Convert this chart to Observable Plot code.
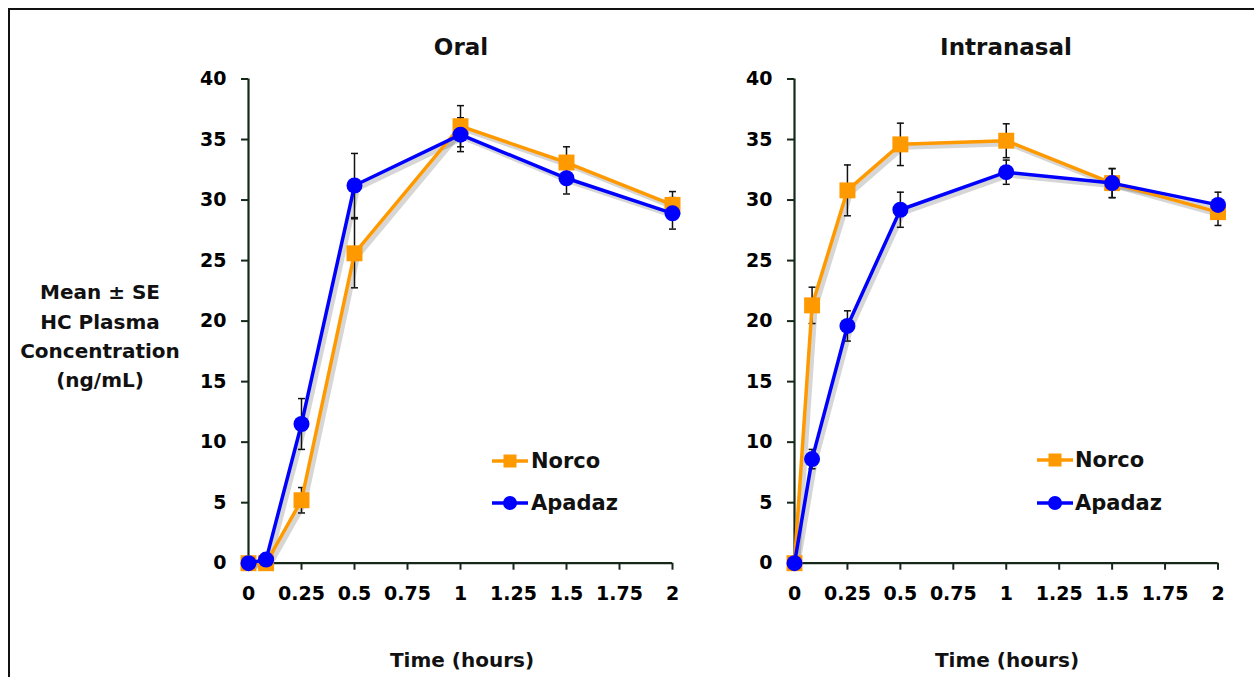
<!DOCTYPE html>
<html><head><meta charset="utf-8">
<script src="https://cdn.jsdelivr.net/npm/d3@7"></script>
<script src="https://cdn.jsdelivr.net/npm/@observablehq/plot@0.6"></script>
<style>
html,body{margin:0;padding:0;background:#fff;overflow:hidden;}
#root{position:relative;width:1254px;height:677px;font-family:"DejaVu Sans",sans-serif;font-weight:bold;color:#111;overflow:hidden;}
.frame{position:absolute;left:8px;top:8px;width:1300px;height:700px;border:2px solid #111;box-sizing:border-box;}
.lbl{position:absolute;transform:translate(-50%,-50%);white-space:nowrap;text-align:center;}
.leg{position:absolute;transform:translateY(-50%);white-space:nowrap;font-size:21px;}
.panel{position:absolute;top:60px;}
</style></head>
<body><div id="root"><div class="frame"></div></div>
<script>
// ---- data ----
const times = [0, 0.083, 0.25, 0.5, 1, 1.5, 2];
const oralNorco     = [0, 0,   5.2, 25.6, 36.1, 33.1, 29.6];
const oralNorcoSE   = [0, 0,   1.05, 2.85, 1.7, 1.3, 1.1];
const oralApadaz    = [0, 0.3, 11.5, 31.2, 35.4, 31.8, 28.9];
const oralApadazSE  = [0, 0,   2.1, 2.65, 1.4, 1.3, 1.3];
const nasalNorco    = [0, 21.3, 30.8, 34.6, 34.9, 31.4, 29.0];
const nasalNorcoSE  = [0, 1.5, 2.1, 1.75, 1.4, 1.2, 1.1];
const nasalApadaz   = [0, 8.6, 19.6, 29.2, 32.3, 31.4, 29.6];
const nasalApadazSE = [0, 0.8, 1.25, 1.45, 1.0, 1.2, 1.05];
const xTicks = [0, 0.25, 0.5, 0.75, 1, 1.25, 1.5, 1.75, 2];
const yTicks = [0, 5, 10, 15, 20, 25, 30, 35, 40];
const seriesNames = ["Norco", "Apadaz"];
const seriesColors = ["#FF9900", "#0000FF"];
const panelTitles = ["Oral", "Intranasal"];
const xLabel = "Time (hours)";
const yLabelLines = ["Mean ± SE", "HC Plasma", "Concentration", "(ng/mL)"];

const axisColor = "#16281a";
const root = document.getElementById("root");

function panel(norco, norcoSE, apadaz, apadazSE, left, width, marginRight) {
  const rows = [];
  times.forEach((t, i) => rows.push({t, v: norco[i], se: norcoSE[i], s: seriesNames[0]}));
  times.forEach((t, i) => rows.push({t, v: apadaz[i], se: apadazSE[i], s: seriesNames[1]}));
  const err = rows.filter(d => d.se > 0);
  const nRows = rows.filter(d => d.s === seriesNames[0]);
  const aRows = rows.filter(d => d.s === seriesNames[1]);
  const cap = {draw(ctx) { ctx.moveTo(-3.5, 0); ctx.lineTo(3.5, 0); }};
  const H = 580;
  const fig = Plot.plot({
    width, height: H,
    marginLeft: 98, marginRight, marginTop: 18.5, marginBottom: H - (562.7 - 60),
    x: {domain: [0, 2]},
    y: {domain: [0, 40]},
    color: {domain: seriesNames, range: seriesColors},
    style: {fontFamily: "DejaVu Sans, sans-serif", fontWeight: "bold", fontSize: "19px", color: "#000", background: "transparent", overflow: "visible"},
    marks: [
      Plot.line(rows, {x: "t", y: "v", z: "s", stroke: "#000", strokeOpacity: 0.16, strokeWidth: 5, dx: 3, dy: 3}),
      Plot.ruleX(err, {x: "t", y1: d => d.v - d.se, y2: d => d.v + d.se, stroke: "#111", strokeWidth: 1.5}),
      Plot.dot(err, {x: "t", y: d => d.v - d.se, symbol: cap, fill: "none", stroke: "#111", strokeWidth: 1.5}),
      Plot.dot(err, {x: "t", y: d => d.v + d.se, symbol: cap, fill: "none", stroke: "#111", strokeWidth: 1.5}),
      Plot.axisX({ticks: xTicks, tickSize: 7, tickPadding: 16, tickFormat: d => String(d), label: null, stroke: axisColor, strokeWidth: 2, fontSize: 19}),
      Plot.axisY({ticks: yTicks, tickSize: 7, tickPadding: 15, label: null, stroke: axisColor, strokeWidth: 2, fontSize: 19}),
      Plot.ruleX([0], {y1: 0, y2: 40, stroke: axisColor, strokeWidth: 2.2}),
      Plot.ruleY([0], {x1: 0, x2: 2, stroke: axisColor, strokeWidth: 2.2}),
      Plot.line(nRows, {x: "t", y: "v", stroke: "s", strokeWidth: 3.5}),
      Plot.dot(nRows, {x: "t", y: "v", symbol: "square", r: 9, fill: "s", stroke: "none"}),
      Plot.line(aRows, {x: "t", y: "v", stroke: "s", strokeWidth: 3.5}),
      Plot.dot(aRows, {x: "t", y: "v", symbol: "circle", r: 8, fill: "s", stroke: "none"})
    ]
  });
  fig.classList.add("panel");
  fig.style.left = left + "px";
  root.appendChild(fig);
}

panel(oralNorco, oralNorcoSE, oralApadaz, oralApadazSE, 150, 560, 150 + 560 - 672);
panel(nasalNorco, nasalNorcoSE, nasalApadaz, nasalApadazSE, 696, 555, 696 + 555 - 1217.5);

function label(text, x, y, size) {
  const d = document.createElement("div");
  d.className = "lbl";
  d.textContent = text;
  d.style.left = x + "px"; d.style.top = y + "px"; d.style.fontSize = size + "px";
  root.appendChild(d);
}
label(panelTitles[0], 461, 47, 23);
label(panelTitles[1], 1006, 47, 23);
label(xLabel, 462, 660, 20);
label(xLabel, 1007, 660, 20);
const yl = [291.7, 321.7, 350.7, 380];
yLabelLines.forEach((t, i) => label(t, 100, yl[i], 20));

function legend(x0, x1, textX, ys) {
  seriesNames.forEach((name, i) => {
    const y = ys[i];
    const svg = d3.create("svg").attr("width", x1 - x0 + 4).attr("height", 20)
      .style("position", "absolute").style("left", (x0 - 2) + "px").style("top", (y - 10) + "px");
    svg.append("line").attr("x1", 2).attr("x2", x1 - x0 + 2).attr("y1", 10).attr("y2", 10)
      .attr("stroke", seriesColors[i]).attr("stroke-width", 3.5);
    const cx = (x1 - x0) / 2 + 2;
    if (i === 0) svg.append("rect").attr("x", cx - 6.5).attr("y", 3.5).attr("width", 13).attr("height", 13).attr("fill", seriesColors[i]);
    else svg.append("circle").attr("cx", cx).attr("cy", 10).attr("r", 7).attr("fill", seriesColors[i]);
    root.appendChild(svg.node());
    const d = document.createElement("div");
    d.className = "leg"; d.textContent = name;
    d.style.left = textX + "px"; d.style.top = y + "px";
    root.appendChild(d);
  });
}
legend(492, 528, 531, [460.7, 502.5]);
legend(1037, 1073, 1075, [460.3, 502.7]);
</script>
</body></html>
